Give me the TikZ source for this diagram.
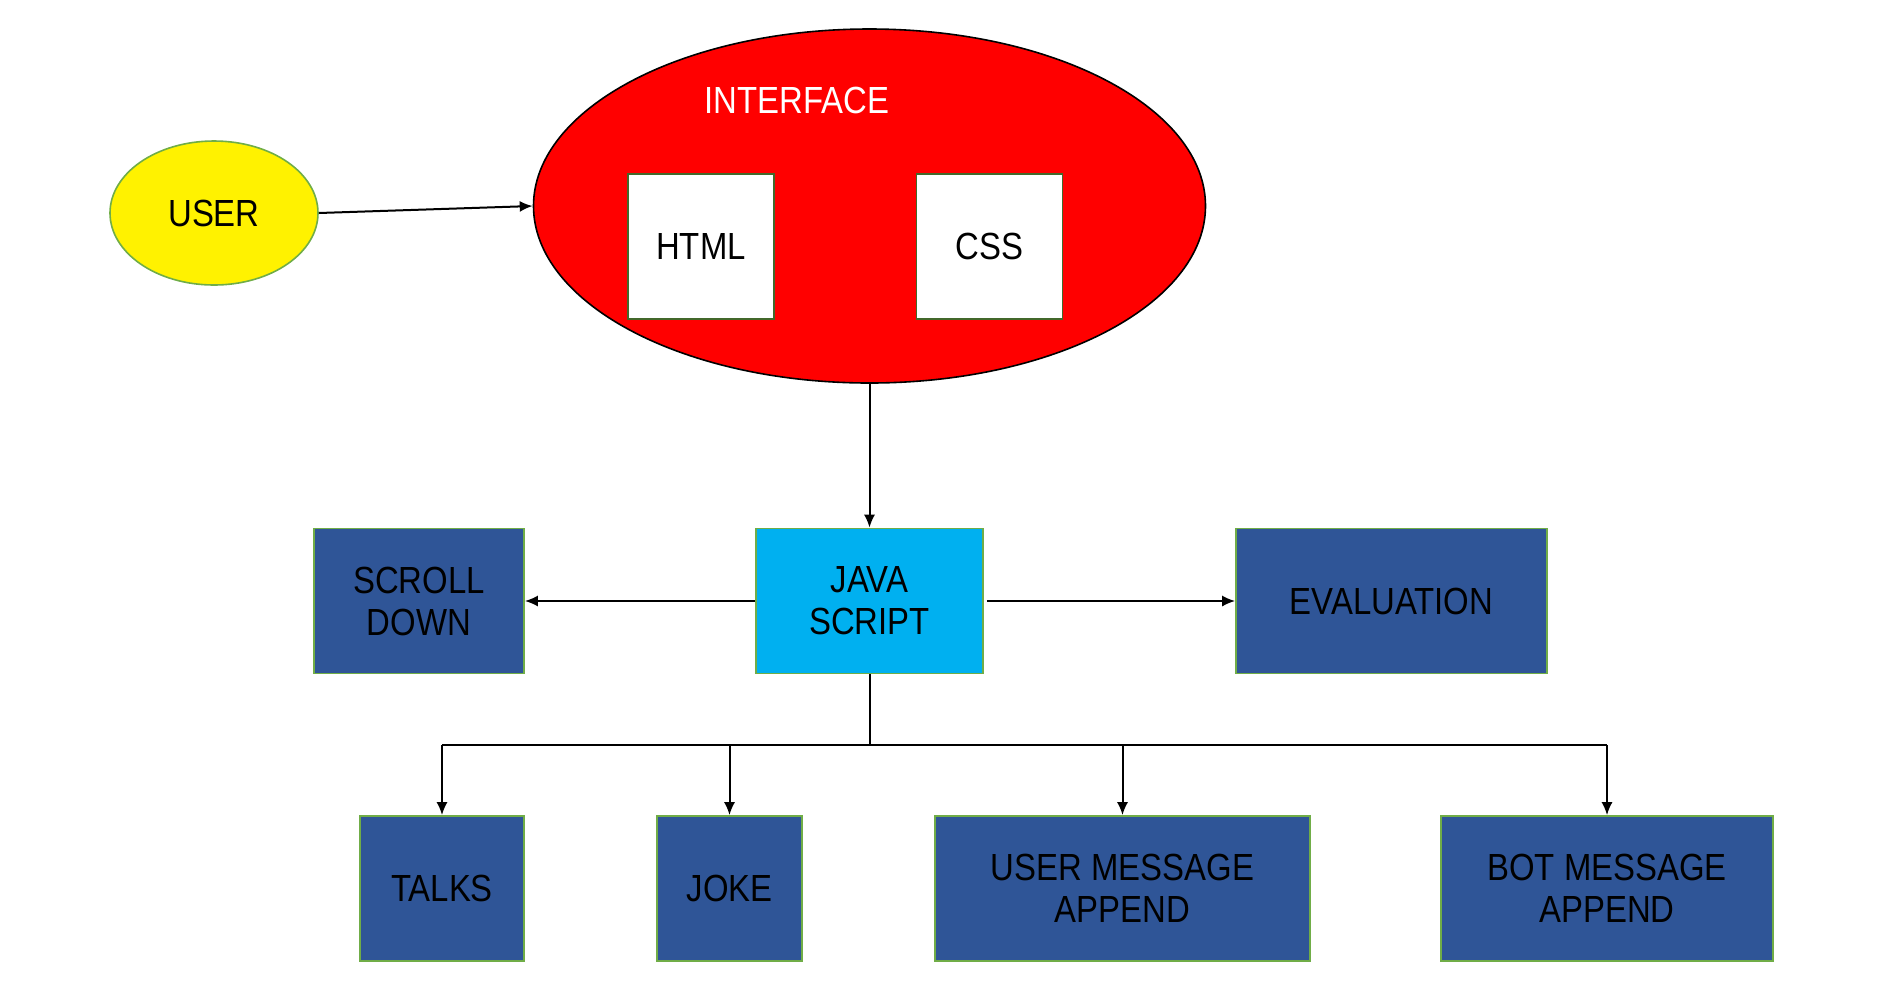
\documentclass[tikz,border=0pt]{standalone}
\usepackage{fontspec}
\setmainfont{Liberation Sans}[FakeStretch=0.87]
\usetikzlibrary{arrows.meta,shapes.geometric}
\definecolor{boxblue}{HTML}{2F5597}
\definecolor{jsblue}{HTML}{00B0F0}
\definecolor{edgegreen}{HTML}{70AD47}

\begin{document}
\begin{tikzpicture}[x=0.5pt,y=-0.5pt,
    every node/.style={font=\fontsize{18.9}{21}\selectfont, align=center},
    blockbox/.style={rectangle, draw=edgegreen, line width=0.8pt, fill=boxblue, minimum height=72.5pt},
    webbox/.style={rectangle, draw=edgegreen!60!black, line width=0.8pt, fill=white, minimum width=73pt, minimum height=72.5pt},
    arr/.style={-{Latex[length=6.5pt,width=5.5pt]}, line width=1pt}]
    \useasboundingbox (0,0) rectangle (1896,998);
    \node[ellipse, draw=edgegreen, line width=0.8pt, fill=yellow, minimum width=104pt, minimum height=72pt] (user) at (214,213) {USER};
    \node[ellipse, draw=black, line width=0.8pt, fill=red, minimum width=336pt, minimum height=177pt] (iface) at (869.5,206) {};
    \node[text=white] (ifacelabel) at (797,100) {INTERFACE};
    \node[webbox] (html) at (701,246.5) {HTML};
    \node[webbox] (css) at (989.5,246.5) {CSS};
    \node[blockbox, fill=jsblue, minimum width=113.5pt] (js) at (869.5,601) {JAVA\\SCRIPT};
    \node[blockbox, minimum width=105pt] (scroll) at (419,601) {SCROLL\\DOWN};
    \node[blockbox, minimum width=155.5pt] (eval) at (1391.5,601) {EVALUATION};
    \node[blockbox, minimum width=82pt] (talks) at (442,888.5) {TALKS};
    \node[blockbox, minimum width=72.5pt] (joke) at (729.5,888.5) {JOKE};
    \node[blockbox, minimum width=187.5pt] (usermsg) at (1122.5,888.5) {USER MESSAGE\\APPEND};
    \node[blockbox, minimum width=166pt] (botmsg) at (1607,888.5) {BOT MESSAGE\\APPEND};
    \coordinate (split) at (869.5,745);

    \draw[arr] (user.east) -- (iface.west);
    \draw[arr] (iface.south) -- (js.north);
    \draw[arr] (js.west) -- (scroll.east);
    \draw[arr] (js.east) ++(3,0) -- (eval.west);
    \draw[line width=1pt] (js.south) -- (split);
    \draw[line width=1pt] (split -| talks.north) -- (split -| botmsg.north);
    \foreach \n in {talks,joke,usermsg,botmsg}
        \draw[arr] (split -| \n.north) -- (\n.north);
\end{tikzpicture}
\end{document}
